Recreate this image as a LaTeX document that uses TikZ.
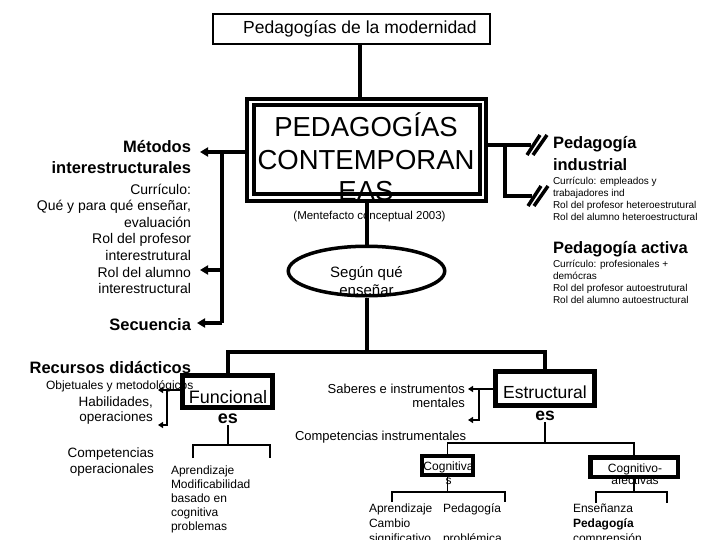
\documentclass[tikz,border=0pt]{standalone}
\usepackage{fontspec}
\setmainfont{Liberation Sans}
\usetikzlibrary{arrows.meta,calc,shapes.geometric}
\tikzset{
  thickln/.style={line width=4pt},
  bigarrow/.style={line width=4pt,-{Triangle[length=8pt,width=9pt]}},
  smallarrow/.style={line width=1.8pt,-{Triangle[length=5pt,width=6pt]}},
  thinln/.style={line width=1.3pt},
  txt/.style={inner sep=0pt,outer sep=0pt},
  heavybox/.style={draw,inner sep=0pt},
  dslash/.pic={\draw[line width=3.5pt] (-4,10) -- (9,-10) (2,10) -- (16,-10);}
}
\newcommand{\fs}[2]{\fontsize{#1}{#2}\selectfont}
\begin{document}
\begin{tikzpicture}[x=1pt,y=-1pt]
\useasboundingbox (0,0) rectangle (720,540);
\fill[white] (0,0) rectangle (720,540);

% top
\node[draw,line width=1.3pt,minimum width=277pt,minimum height=30pt,inner sep=0pt,font=\fs{17.5}{20}] (top) at (351.5,29) {\hspace{17pt}Pedagogías de la modernidad};
\coordinate (tj) at (360,60);

% core box
\node[draw,double=white,line width=4pt,double distance=2.5pt,minimum width=232.5pt,minimum height=95.5pt,inner sep=0pt,outer sep=5.25pt] (core) at (366.5,150) {};
\draw[thickln] (top.south -| tj) -- (core.north -| tj);
\node[txt,align=center,anchor=base,font=\fs{27.5}{32}] (coretext) at (366,201) {PEDAGOGÍAS\\CONTEMPORAN\\EAS};
\node[txt,anchor=base,font=\fs{11.5}{13}] (ment) at (369.5,219) {(Mentefacto conceptual 2003)};

% ellipse
\node[draw,ellipse,line width=3.5pt,minimum width=156.5pt,minimum height=49.5pt,inner sep=0pt] (ens) at (366.5,271) {};
\node[txt,align=center,anchor=base,font=\fs{15}{18}] (enst) at (366.5,295) {Según qué\\enseñar};
\draw[thickln] (core.south) -- (ens.north);

% left side
\node[txt,anchor=base east,align=right,font=\bfseries\fs{16.5}{21}] (met) at (191,174) {Métodos\\interestructurales};
\node[txt,anchor=base east,align=right,font=\fs{14}{16.6}] (metsub) at (191,293.6) {Currículo:\\Qué y para qué enseñar,\\evaluación\\Rol del profesor\\interestrutural\\Rol del alumno\\interestructural};
\node[txt,anchor=base east,font=\bfseries\fs{16.5}{20}] (sec) at (191,330) {Secuencia};
\node[txt,anchor=base east,font=\bfseries\fs{16.5}{20}] (rec) at (191,373) {Recursos didácticos};
\node[txt,anchor=base west,font=\fs{12}{14}] (obj) at (46,389) {Objetuales y metodológicos};
\node[txt,anchor=base east,align=right,font=\fs{13.5}{15.5}] (hab) at (153,421.5) {Habilidades,\\operaciones};
\node[txt,anchor=base east,align=right,font=\fs{13.5}{16}] (comp) at (154,473) {Competencias\\operacionales};

\coordinate (mA) at (200,152);
\coordinate (mB) at (200,270);
\coordinate (lv) at (222,152);
\coordinate (secA) at (197,323);
\draw[bigarrow] ([yshift=-2pt]core.west) -- (mA);
\draw[thickln] (lv) -- (lv |- secA);
\draw[bigarrow] (lv |- mB) -- (mB);
\draw[bigarrow] (lv |- secA) -- (secA);

% right side
\coordinate (ind1) at (531,145);
\coordinate (ind2) at (532,196);
\coordinate (rv) at (505,145);
\draw[thickln] ([yshift=5pt]core.east) -- (ind1);
\draw[thickln] (rv) |- (ind2);
\pic at (ind1) {dslash};
\pic at (ind2) {dslash};
\node[txt,anchor=base west,align=left,font=\bfseries\fs{16.5}{22}] (ind) at (553,171) {Pedagogía\\industrial};
\node[txt,anchor=base west,align=left,font=\fs{10}{12.3}] (inds) at (553,220.9) {Currículo: empleados y\\trabajadores ind\\Rol del profesor heteroestrutural\\Rol del alumno heteroestructural};
\node[txt,anchor=base west,font=\bfseries\fs{16.5}{20}] (act) at (553,253) {Pedagogía activa};
\node[txt,anchor=base west,align=left,font=\fs{10}{12.3}] (acts) at (553,303.9) {Currículo: profesionales +\\demócras\\Rol del profesor autoestrutural\\Rol del alumno autoestructural};

% bottom boxes
\node[heavybox,line width=5pt,minimum width=90pt,minimum height=32pt] (fun) at (227.5,391.5) {};
\node[txt,align=center,anchor=base,font=\fs{18}{20}] (funt) at (228,423) {Funcional\\\textbf{es}};
\node[heavybox,line width=5pt,minimum width=99pt,minimum height=34pt] (est) at (545,388.5) {};
\node[txt,align=center,anchor=base,font=\fs{17.5}{22}] (estt) at (545,420) {Estructural\\\textbf{es}};

\coordinate (bar) at (366.5,352);
\draw[thickln] (ens.south) -- (bar);
\draw[thickln] (fun.north) -- (fun.north |- bar) -- (est.north |- bar) -- (est.north);

% small arrows left
\coordinate (o1) at (158,390);
\coordinate (o2) at (158,425);
\coordinate (ov) at (167,390);
\draw[smallarrow] (fun.west |- o1) -- (o1);
\draw[smallarrow] (ov) |- (o2);

% below funcional
\coordinate (fh) at (0,445);
\coordinate (fl) at (193,458);
\coordinate (fr) at (270,458);
\draw[thinln] ([yshift=-2pt]funt.south) -- (funt.south |- fh);
\draw[thinln] (fl) -- (fl |- fh) -- (fr |- fh) -- (fr);
\node[txt,anchor=base west,align=left,font=\fs{12}{14}] (funtx) at (171,530) {Aprendizaje\\Modificabilidad\\basado en\\cognitiva\\problemas};

% middle
\node[txt,anchor=base east,align=right,font=\fs{13}{14.5}] (sab) at (465,407.5) {Saberes e instrumentos\\mentales};
\coordinate (s1) at (468,389);
\coordinate (s2) at (468,420);
\coordinate (sv) at (479,389);
\draw[smallarrow] (est.west |- s1) -- (s1);
\draw[smallarrow] (sv) |- (s2);
\node[txt,anchor=base west,font=\fs{13}{15}] (cins) at (295,440) {Competencias instrumentales};

% cognitive boxes
\node[heavybox,line width=4pt,minimum width=51pt,minimum height=19pt] (cog) at (447.5,465.5) {};
\node[txt,align=center,anchor=base,font=\fs{12}{14}] (cogt) at (448.5,484) {Cognitiva\\s};
\node[heavybox,line width=4.5pt,minimum width=87.5pt,minimum height=19.5pt] (cga) at (634,467) {};
\node[txt,align=center,anchor=base,font=\fs{12}{12}] (cgat) at (635,484) {Cognitivo-\\afectivas};

\coordinate (h2) at (0,443);
\draw[thinln] ([yshift=-2pt]estt.south) -- (estt.south |- h2);
\draw[thinln] (cog.north) -- (cog.north |- h2) -- (cga.north |- h2) -- (cga.north);

\coordinate (h3) at (0,492);
\coordinate (c1) at (392,502);
\coordinate (c2) at (505,502);
\coordinate (c3) at (596,503);
\coordinate (c4) at (667,503);
\draw[thinln] (cog.south) -- (cog.south |- h3);
\draw[thinln] (c1) -- (c1 |- h3) -- (c2 |- h3) -- (c2);
\draw[thinln] (cga.south) -- (cga.south |- h3);
\draw[thinln] (c3) -- (c3 |- h3) -- (c4 |- h3) -- (c4);

\node[txt,anchor=base west,align=left,font=\fs{12}{15}] (apr) at (369,542) {Aprendizaje\\Cambio\\significativo};
\node[txt,anchor=base west,align=left,font=\fs{12}{15}] (ped) at (443,542) {Pedagogía\\[15pt]problémica};
\node[txt,anchor=base west,align=left,font=\fs{12}{15}] (ensz) at (573,542) {Enseñanza\\\textbf{Pedagogía}\\comprensión};
\end{tikzpicture}
\end{document}
